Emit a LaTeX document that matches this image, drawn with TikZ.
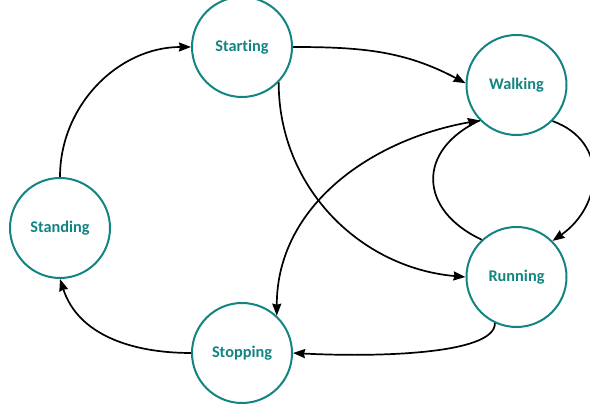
\documentclass[tikz,border=0pt]{standalone}
\usepackage{fontspec}
\setmainfont{Carlito}[Ligatures=NoCommon]
\usetikzlibrary{arrows.meta}
\definecolor{stateteal}{RGB}{18,132,130}
\begin{document}
\begin{tikzpicture}[x=1pt,y=1pt,
  state/.style={circle, draw=stateteal, line width=2pt, minimum size=100pt,
    inner sep=0pt, font=\bfseries\fontsize{16.3}{19}\selectfont, text=stateteal},
  tip/.tip={Stealth[length=12pt,width=9pt,inset=1pt]},
  trans/.style={line width=1.7pt, black, -tip}]
  \useasboundingbox (0,0) rectangle (590,409);

  % states
  \node[state] (start) at (242,362) {Starting};
  \node[state] (walk)  at (516.5,324) {Walking};
  \node[state] (stand) at (60,181) {Standing};
  \node[state] (run)   at (516.5,132) {Running};
  \node[state] (stop)  at (242,56) {Stopping};

  % transitions
  \draw[trans] (stand.90) to[out=90,in=180] (start.180);
  \draw[trans] (start.0) to[out=0,in=152] (walk.178);
  \draw[trans] (start.-44) to[out=-90,in=175] (run.180);
  \draw[trans, tip-tip] (walk.-136) to[out=190,in=90] (stop.47);
  \draw[line width=1.7pt] (run.133) to[out=155,in=205,looseness=1.5] (walk.-136);
  \draw[trans] (walk.-45) to[out=-20,in=35,looseness=1.3] (run.45);
  \draw[trans] (run.-115) to[out=-90,in=-3,out looseness=0.4,in looseness=1] (stop.0);
  \draw[trans] (stop.180) to[out=180,in=-72] (stand.-90);
\end{tikzpicture}
\end{document}
